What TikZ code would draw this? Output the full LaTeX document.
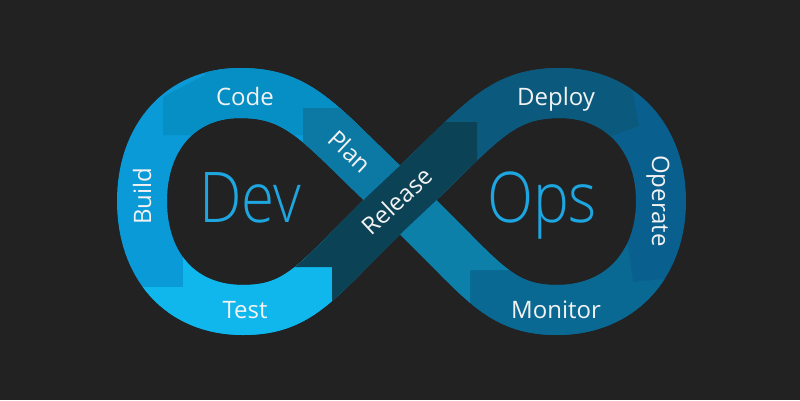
\documentclass[tikz,border=0pt]{standalone}
\usepackage{fontspec}
\setmainfont{Open Sans}
\newfontfamily\thinfont{Open Sans Light}
\definecolor{bgc}{HTML}{222222}
\definecolor{cbuild}{HTML}{0A9AD7}
\definecolor{ccode}{HTML}{068FC5}
\definecolor{cplan}{HTML}{0B79A4}
\definecolor{ctest}{HTML}{0FB7EC}
\definecolor{crel}{HTML}{0B4256}
\definecolor{cdeploy}{HTML}{0B5A7D}
\definecolor{coperate}{HTML}{09608F}
\definecolor{cmonitor}{HTML}{0A6993}
\definecolor{cteal}{HTML}{0D80A9}
\definecolor{cword}{HTML}{1DA6E0}
\definecolor{lblc}{HTML}{F2F2F2}
\def\lloopP{(400,200) .. controls (319.7,125.2) and (302,93) .. (240,93) .. controls (180,93) and (142,138) .. (142,201) .. controls (142,265) and (180,310) .. (243,310) .. controls (305,310) and (319.7,274.8) .. (400,200)}
\def\rloopP{(400,200) .. controls (480.3,125.2) and (498,93) .. (560,93) .. controls (620,93) and (661,138) .. (661,201) .. controls (661,265) and (620,310) .. (557,310) .. controls (495,310) and (480.3,274.8) .. (400,200)}
\def\relP{(243,310) .. controls (305,310) and (319.7,274.8) .. (400,200) .. controls (480.3,125.2) and (498,93) .. (560,93)}
\begin{document}
\begin{tikzpicture}[x=1pt,y=-1pt,
  band/.style={line width=50pt},
  lbl/.style={text=lblc, font=\fontsize{24}{28}\selectfont, inner sep=0pt},
  big/.style={text=cword, font=\thinfont\fontsize{70}{80}\selectfont, inner sep=0pt, xscale=0.86}]
\fill[bgc] (0,0) rectangle (800,400);
\useasboundingbox (0,0) rectangle (800,400);
% base loops
\draw[band,cbuild] \lloopP;
\draw[band,coperate] \rloopP;
% Code
\begin{scope}
\clip (163,135) -- (163,97) -- (205,75) -- (205,20) -- (360,20) -- (360,135) -- cycle;
\draw[band,ccode] \lloopP;
\end{scope}
% Test
\begin{scope}
\clip (100,287) -- (183,287) -- (183,230) -- (332,230) -- (332,400) -- (100,400) -- cycle;
\draw[band,ctest] \lloopP;
\end{scope}
% Plan
\begin{scope}
\clip (303,108) -- (440,108) -- (440,240) -- (303,240) -- cycle;
\draw[band,cplan] \lloopP;
\end{scope}
% Deploy
\begin{scope}
\clip (420,40) -- (626,40) -- (633,93) -- (639,126) -- (600,140) -- (480,200) -- (420,200) -- cycle;
\draw[band,cdeploy] \rloopP;
\end{scope}
% Monitor
\begin{scope}
\clip (470,400) -- (470,270) -- (530,270) -- (530,245) -- (628,245) -- (633,282) -- (700,276) -- (700,400) -- cycle;
\draw[band,cmonitor] \rloopP;
\end{scope}
% teal under-arm
\begin{scope}
\clip (400,150) -- (470,150) -- (470,200) -- (540,200) -- (540,270) -- (470,270) -- (470,400) -- (400,400) -- cycle;
\draw[band,cteal] \rloopP;
\end{scope}
% Release on top
\begin{scope}
\clip (280,122) -- (477,122) -- (477,360) -- (332,360) -- (332,267) -- (280,267) -- cycle;
\draw[band,crel] \relP;
\end{scope}
% labels
\node[lbl, anchor=base] (code) at (245,105) {Code};
\node[lbl, anchor=base] (test) at (245,318) {Test};
\node[lbl, anchor=base, rotate=90] (build) at (151,196) {Build};
\node[lbl, rotate=-43] (plan) at (350,151) {Plan};
\node[lbl, rotate=43] (release) at (397,201) {Release};
\node[lbl, anchor=base] (deploy) at (556,105) {Deploy};
\node[lbl, anchor=base, rotate=-90] (operate) at (652,201) {Operate};
\node[lbl, anchor=base] (monitor) at (556,318) {Monitor};
\node[big, anchor=base] (dev) at (250,222) {Dev};
\node[big, anchor=base] (ops) at (542,222) {Ops};
\end{tikzpicture}
\end{document}
